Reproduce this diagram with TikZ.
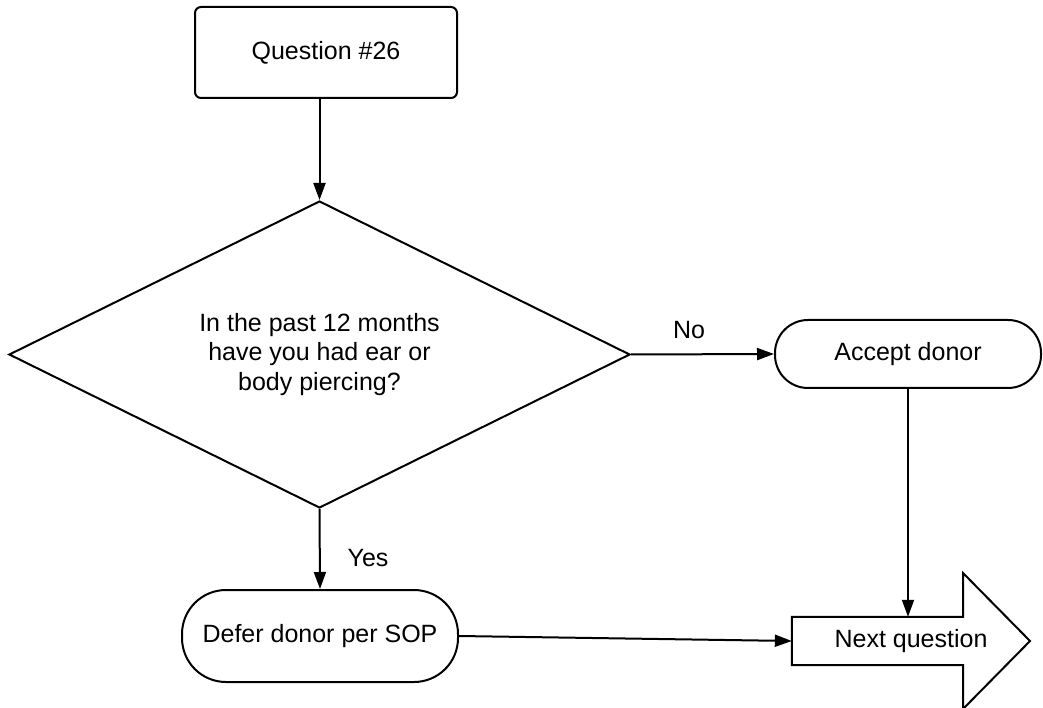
\documentclass[tikz,border=0pt]{standalone}
\usepackage{fontspec}
\setmainfont{Liberation Sans}
\usetikzlibrary{shapes.geometric,arrows.meta}
\begin{document}
\begin{tikzpicture}[x=1pt,y=1pt,
  every node/.style={font=\fontsize{25}{29.5}\selectfont, inner sep=0pt},
  flow/.style={line width=2pt},
  link/.style={flow, -{Triangle[length=17pt,width=12pt]}},
  startbox/.style={flow, draw, rectangle, rounded corners=6pt,
    minimum width=262pt, minimum height=91pt},
  decision/.style={flow, draw, diamond, aspect=2.02,
    minimum width=621pt, minimum height=307pt, align=center},
  terminal/.style={flow, draw, rectangle, rounded corners=#1},
  lbl/.style={}
]
\useasboundingbox (0,0) rectangle (1043,707);

% boxes
\node[startbox] (q26) at (326,654.5) {Question \#26};
\node[decision] (dia) at (319.5,352.5) {In the past 12 months\\have you had ear or\\body piercing?};
\node[terminal=33pt, minimum width=266pt, minimum height=68pt] (accept) at (908,353) {Accept donor};
\node[terminal=44pt, minimum width=276pt, minimum height=92pt] (defer) at (320,71) {Defer donor per SOP};

% block arrow for the next question
\node[minimum width=171pt, minimum height=48pt] (nq) at (877.5,66) {};
\draw[flow, line join=miter] (nq.north west) -- (nq.north east) -- (963,134)
  -- (1030,66) -- (963,-2) -- (nq.south east) -- (nq.south west) -- cycle;
\node (nqtext) at (911,66) {Next question};

% connectors
\draw[link] (q26.south -| dia.north) -- (dia.north);
\draw[link] (dia.east) -- (accept.west);
\draw[link] (dia.south) -- (defer.north);
\draw[link] (accept.south) -- (accept.south |- nq.north);
\draw[link] (defer.east) -- (nq.west);

% branch labels
\node[lbl] (no) at (689,377) {No};
\node[lbl] (yes) at (368,149) {Yes};
\end{tikzpicture}
\end{document}
